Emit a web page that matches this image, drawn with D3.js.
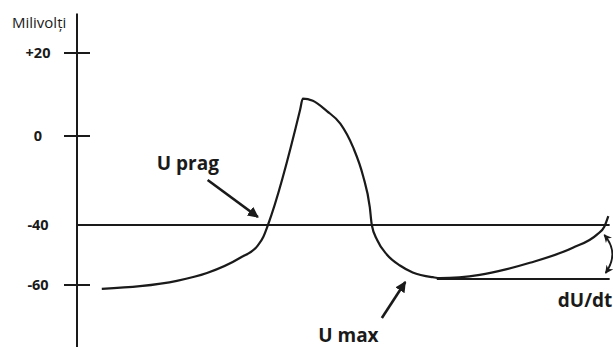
<!DOCTYPE html>
<html>
<head>
<meta charset="utf-8">
<script src="https://cdn.jsdelivr.net/npm/d3@7"></script>
<style>
  html, body { margin: 0; padding: 0; background: #fff; }
  svg { display: block; }
  text { fill: #1a1a1a; }
</style>
</head>
<body>
<svg id="chart" width="613" height="347"></svg>
<script>
// Pacemaker action potential (time in ms, membrane potential in mV)
const timeMs = [37, 94, 149, 194, 243, 270, 278, 285, 333, 337, 352, 373, 393, 412, 427, 437, 440, 448, 463, 482, 501, 531, 542, 601, 640, 676, 740, 776, 787, 793];
const voltageMv = [-61.3, -60.4, -58.6, -56, -51, -46.8, -44, -40, 6.3, 9, 8.5, 6, 3, -5, -18, -32, -40, -45, -50, -53.5, -55.8, -57.4, -57.7, -56.6, -54.8, -52.6, -47.6, -43.2, -40.6, -36];

// Vertical axis ticks and labels
const tickValues = [20, 0, -60];
const labelValues = [20, 0, -40, -60];
const labelText = ["+20", "0", "-40", "-60"];

// Reference levels
const thresholdMv = -40;
const minimumMv = -58;
const minimumStartMs = 537;
const levelEndMs = 795;

// Annotations: text labels and arrows in data units
const noteText = ["U prag", "U max", "dU/dt"];
const noteTime = [119, 360, 799];
const noteVolt = [-15.3, -79, -67.3];
const noteAnchor = ["start", "start", "end"];
const arrowFrom = [[195, -19.8], [455, -71]];
const arrowTo = [[270, -36.4], [490, -59]];
const slopeArc = [[787, -43.3], [810, -49.3], [789, -56]];

const svg = d3.select("#chart");
const W = 613, H = 347;
const ink = "#1a1a1a";

const x = d3.scaleLinear().domain([0, 800]).range([77, 613]);
const y = d3.scaleLinear().domain([-60, -40, 0, 20]).range([285, 225, 136, 53]);

// markers
const defs = svg.append("defs");
defs.append("marker")
  .attr("id", "head")
  .attr("viewBox", "0 0 10 10")
  .attr("refX", 9).attr("refY", 5)
  .attr("markerWidth", 4.2).attr("markerHeight", 4.2)
  .attr("markerUnits", "strokeWidth")
  .attr("orient", "auto-start-reverse")
  .append("path").attr("d", "M0,0 L10,5 L0,10 Z").attr("fill", ink);
defs.append("marker")
  .attr("id", "headSmall")
  .attr("viewBox", "0 0 10 10")
  .attr("refX", 9).attr("refY", 5)
  .attr("markerWidth", 4.5).attr("markerHeight", 4.5)
  .attr("markerUnits", "strokeWidth")
  .attr("orient", "auto-start-reverse")
  .append("path").attr("d", "M0,0 L10,5 L0,10 L3,5 Z").attr("fill", ink);

// vertical axis
svg.append("line")
  .attr("x1", x(0)).attr("x2", x(0))
  .attr("y1", y(29.5)).attr("y2", H)
  .attr("stroke", ink).attr("stroke-width", 2);

svg.selectAll("line.tick").data(tickValues).join("line")
  .attr("class", "tick")
  .attr("x1", x(0) - 13).attr("x2", x(0) + 13)
  .attr("y1", d => y(d)).attr("y2", d => y(d))
  .attr("stroke", ink).attr("stroke-width", 2);

svg.selectAll("text.tl").data(labelValues).join("text")
  .attr("class", "tl")
  .attr("x", 38).attr("y", d => y(d) + 5)
  .attr("text-anchor", "middle")
  .attr("font-family", "Open Sans, sans-serif")
  .attr("font-weight", "bold")
  .attr("font-size", 14.5)
  .text((d, i) => labelText[i]);

svg.append("text")
  .attr("x", 12).attr("y", 28)
  .attr("font-family", "Open Sans, sans-serif")
  .attr("font-size", 15)
  .text("Milivolți");

// threshold and minimum lines
svg.append("line")
  .attr("x1", x(0)).attr("x2", x(levelEndMs))
  .attr("y1", y(thresholdMv)).attr("y2", y(thresholdMv))
  .attr("stroke", ink).attr("stroke-width", 2);
svg.append("line")
  .attr("x1", x(minimumStartMs)).attr("x2", x(levelEndMs))
  .attr("y1", y(minimumMv)).attr("y2", y(minimumMv))
  .attr("stroke", ink).attr("stroke-width", 2);

// action potential trace
const line = d3.line()
  .x(d => x(d[0])).y(d => y(d[1]))
  .curve(d3.curveMonotoneX);
svg.append("path")
  .datum(timeMs.map((t, i) => [t, voltageMv[i]]))
  .attr("d", line)
  .attr("fill", "none")
  .attr("stroke", ink)
  .attr("stroke-width", 2.2);

// pointer arrows
svg.selectAll("line.arrow").data(arrowFrom).join("line")
  .attr("class", "arrow")
  .attr("x1", d => x(d[0])).attr("y1", d => y(d[1]))
  .attr("x2", (d, i) => x(arrowTo[i][0])).attr("y2", (d, i) => y(arrowTo[i][1]))
  .attr("stroke", ink).attr("stroke-width", 2.6)
  .attr("marker-end", "url(#head)");

// curved double arrow for the slope
const p = slopeArc.map(d => [x(d[0]), y(d[1])]);
svg.append("path")
  .attr("d", `M${p[0][0]},${p[0][1]} Q${p[1][0]},${p[1][1]} ${p[2][0]},${p[2][1]}`)
  .attr("fill", "none").attr("stroke", ink).attr("stroke-width", 1.8)
  .attr("marker-start", "url(#headSmall)")
  .attr("marker-end", "url(#headSmall)");

// annotation labels
svg.selectAll("text.note").data(noteText).join("text")
  .attr("class", "note")
  .attr("x", (d, i) => x(noteTime[i]))
  .attr("y", (d, i) => y(noteVolt[i]))
  .attr("text-anchor", (d, i) => noteAnchor[i])
  .attr("font-family", "Open Sans, sans-serif")
  .attr("font-weight", "bold")
  .attr("font-size", 19)
  .text(d => d);
</script>
</body>
</html>
